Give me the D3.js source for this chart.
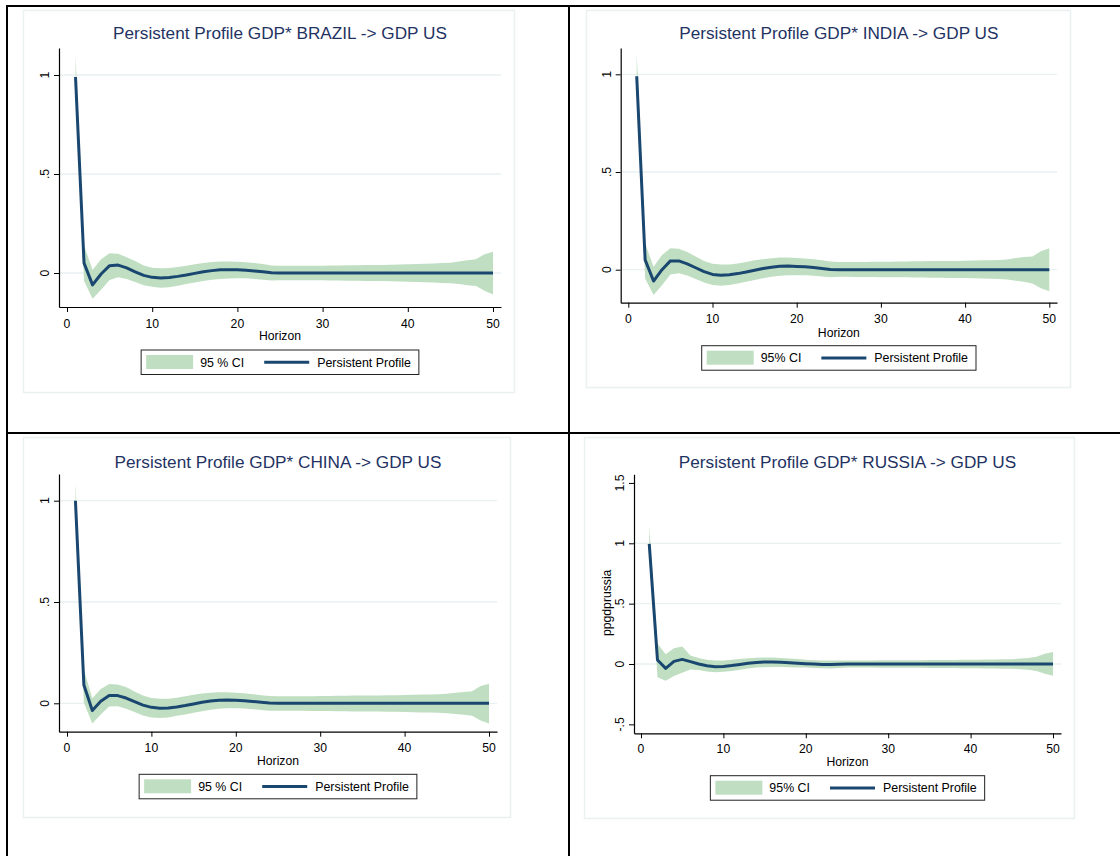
<!DOCTYPE html>
<html>
<head>
<meta charset="utf-8">
<script src="https://cdn.jsdelivr.net/npm/d3@7"></script>
<style>
  body { margin: 0; background: #fff; }
  svg { display: block; font-family: "Liberation Sans", Arial, sans-serif; }
</style>
</head>
<body>
<script>
// horizon 1..50
const horizon = d3.range(1, 51)
const xTicks = [0, 10, 20, 30, 40, 50]

const brazilPP = [0.99, 0.05, -0.06, -0.005, 0.037, 0.04, 0.026, 0.006, -0.012, -0.022,
  -0.025, -0.023, -0.017, -0.01, -0.002, 0.006, 0.012, 0.016, 0.017, 0.016,
  0.014, 0.01, 0.006, 0.001, 0, 0, 0, 0, 0, 0,
  0, 0, 0, 0, 0, 0, 0, 0, 0, 0,
  0, 0, 0, 0, 0, 0, 0, 0, 0, 0]
const brazilHi = [1.10, 0.14, 0.015, 0.07, 0.10, 0.097, 0.08, 0.06, 0.038, 0.027,
  0.024, 0.025, 0.03, 0.037, 0.044, 0.05, 0.055, 0.058, 0.058, 0.057,
  0.054, 0.05, 0.045, 0.038, 0.036, 0.036, 0.036, 0.036, 0.037, 0.037,
  0.038, 0.038, 0.039, 0.039, 0.040, 0.041, 0.041, 0.042, 0.043, 0.044,
  0.045, 0.047, 0.048, 0.050, 0.052, 0.058, 0.065, 0.070, 0.095, 0.107]
const brazilLo = [0.97, -0.04, -0.13, -0.085, -0.035, -0.022, -0.03, -0.045, -0.062, -0.07,
  -0.075, -0.072, -0.064, -0.056, -0.048, -0.04, -0.034, -0.03, -0.028, -0.027,
  -0.027, -0.03, -0.034, -0.038, -0.036, -0.036, -0.036, -0.036, -0.037, -0.037,
  -0.038, -0.038, -0.039, -0.039, -0.040, -0.041, -0.041, -0.042, -0.043, -0.044,
  -0.045, -0.047, -0.048, -0.050, -0.052, -0.056, -0.062, -0.066, -0.090, -0.108]

const indiaPP = [0.99, 0.05, -0.058, 0.0, 0.045, 0.045, 0.03, 0.01, -0.01, -0.024,
  -0.028, -0.026, -0.02, -0.012, -0.003, 0.006, 0.013, 0.018, 0.019, 0.017,
  0.015, 0.011, 0.006, 0.001, 0, 0, 0, 0, 0, 0,
  0, 0, 0, 0, 0, 0, 0, 0, 0, 0,
  0, 0, 0, 0, 0, 0, 0, 0, 0, 0]
const indiaHi = [1.11, 0.135, 0.015, 0.075, 0.11, 0.107, 0.09, 0.068, 0.045, 0.03,
  0.026, 0.027, 0.032, 0.04, 0.048, 0.054, 0.059, 0.062, 0.062, 0.06,
  0.057, 0.053, 0.048, 0.042, 0.040, 0.040, 0.040, 0.040, 0.041, 0.041,
  0.041, 0.042, 0.042, 0.043, 0.043, 0.044, 0.044, 0.045, 0.045, 0.046,
  0.047, 0.048, 0.049, 0.050, 0.052, 0.060, 0.065, 0.068, 0.095, 0.110]
const indiaLo = [0.97, -0.045, -0.13, -0.08, -0.025, -0.018, -0.03, -0.048, -0.066, -0.078,
  -0.082, -0.078, -0.07, -0.062, -0.053, -0.044, -0.036, -0.031, -0.029, -0.028,
  -0.028, -0.031, -0.035, -0.038, -0.036, -0.036, -0.037, -0.037, -0.037, -0.038,
  -0.038, -0.039, -0.039, -0.040, -0.040, -0.041, -0.041, -0.042, -0.042, -0.043,
  -0.044, -0.045, -0.046, -0.048, -0.050, -0.056, -0.062, -0.070, -0.095, -0.110]

const chinaPP = [1.0, 0.09, -0.036, 0.01, 0.038, 0.038, 0.026, 0.008, -0.009, -0.02,
  -0.024, -0.023, -0.018, -0.011, -0.003, 0.005, 0.011, 0.015, 0.016, 0.015,
  0.013, 0.009, 0.005, 0.001, 0, 0, 0, 0, 0, 0,
  0, 0, 0, 0, 0, 0, 0, 0, 0, 0,
  0, 0, 0, 0, 0, 0, 0, 0, 0, 0]
const chinaHi = [1.09, 0.165, 0.025, 0.07, 0.095, 0.093, 0.08, 0.058, 0.038, 0.026,
  0.022, 0.023, 0.028, 0.035, 0.042, 0.048, 0.052, 0.054, 0.054, 0.052,
  0.049, 0.045, 0.04, 0.036, 0.035, 0.035, 0.035, 0.035, 0.035, 0.036,
  0.036, 0.037, 0.037, 0.038, 0.038, 0.039, 0.039, 0.040, 0.040, 0.041,
  0.042, 0.043, 0.044, 0.045, 0.047, 0.052, 0.056, 0.060, 0.085, 0.096]
const chinaLo = [0.98, 0.003, -0.1, -0.055, -0.016, -0.015, -0.027, -0.043, -0.06, -0.07,
  -0.073, -0.07, -0.062, -0.055, -0.047, -0.039, -0.032, -0.027, -0.025, -0.025,
  -0.026, -0.029, -0.033, -0.037, -0.037, -0.037, -0.037, -0.037, -0.038, -0.038,
  -0.038, -0.039, -0.039, -0.040, -0.040, -0.041, -0.041, -0.042, -0.042, -0.043,
  -0.044, -0.045, -0.046, -0.047, -0.049, -0.053, -0.057, -0.062, -0.085, -0.100]

const russiaPP = [0.995, 0.033, -0.036, 0.022, 0.038, 0.02, 0.0, -0.015, -0.022, -0.02,
  -0.013, -0.004, 0.006, 0.013, 0.017, 0.017, 0.015, 0.011, 0.007, 0.003,
  -0.001, -0.004, -0.005, -0.002, 0, 0, 0, 0, 0, 0,
  0, 0, 0, 0, 0, 0, 0, 0, 0, 0,
  0, 0, 0, 0, 0, 0, 0, 0, 0, 0]
const russiaHi = [1.14, 0.17, 0.08, 0.13, 0.145, 0.07, 0.05, 0.035, 0.028, 0.03,
  0.036, 0.042, 0.048, 0.052, 0.054, 0.053, 0.05, 0.046, 0.041, 0.036,
  0.032, 0.029, 0.028, 0.029, 0.030, 0.030, 0.030, 0.030, 0.031, 0.031,
  0.031, 0.032, 0.032, 0.032, 0.033, 0.033, 0.034, 0.034, 0.035, 0.035,
  0.036, 0.037, 0.038, 0.039, 0.040, 0.045, 0.050, 0.060, 0.085, 0.100]
const russiaLo = [0.98, -0.11, -0.138, -0.1, -0.072, -0.045, -0.05, -0.062, -0.068, -0.064,
  -0.058, -0.048, -0.038, -0.03, -0.026, -0.024, -0.024, -0.026, -0.028, -0.03,
  -0.033, -0.036, -0.037, -0.033, -0.030, -0.030, -0.030, -0.030, -0.031, -0.031,
  -0.031, -0.032, -0.032, -0.032, -0.033, -0.033, -0.034, -0.034, -0.035, -0.035,
  -0.036, -0.037, -0.038, -0.039, -0.040, -0.043, -0.048, -0.058, -0.080, -0.097]

const yTicksA = [0, 0.5, 1]
const yTicksB = [-0.5, 0, 0.5, 1, 1.5]
const yTickLabels = { '-0.5': '-.5', '0': '0', '0.5': '.5', '1': '1', '1.5': '1.5' }

const titles = [
  'Persistent Profile GDP* BRAZIL -> GDP US',
  'Persistent Profile GDP* INDIA -> GDP US',
  'Persistent Profile GDP* CHINA -> GDP US',
  'Persistent Profile GDP* RUSSIA -> GDP US'
]
const ciLabels = ['95 % CI', '95% CI', '95 % CI', '95% CI']
const lineLabel = 'Persistent Profile'
const xTitle = 'Horizon'

const W = 1120, H = 856
const ciColor = '#c0dfc2'
const lineColor = '#1a476f'
const gridColor = '#e9f1f2'
const titleColor = '#1f3363'

// layout per panel (pixels)
const panels = [
  { pp: brazilPP, lo: brazilLo, hi: brazilHi, yTicks: yTicksA, box: [23, 10, 514, 392],
    left: 59, right: 501, top: 48, bottom: 307, x0: 67, x50: 493, y0: 273, y1: 75,
    titleY: 39, tickY: 327.5, xTitleY: 339.5, legTop: 350 },
  { pp: indiaPP, lo: indiaLo, hi: indiaHi, yTicks: yTicksA, box: [586, 10, 1070, 387],
    left: 620.7, right: 1057, top: 48, bottom: 302.7, x0: 628.3, x50: 1049.3, y0: 269.7, y1: 74.3,
    titleY: 39, tickY: 322.5, xTitleY: 336.5, legTop: 345.7 },
  { pp: chinaPP, lo: chinaLo, hi: chinaHi, yTicks: yTicksA, box: [23, 437, 510, 817],
    left: 59, right: 497, top: 474, bottom: 731.7, x0: 67, x50: 489, y0: 703.3, y1: 500.7,
    titleY: 467.7, tickY: 751.5, xTitleY: 764.5, legTop: 774.3 },
  { pp: russiaPP, lo: russiaLo, hi: russiaHi, yTicks: yTicksB, box: [584, 437, 1074, 818],
    left: 634, right: 1061, top: 474.3, bottom: 733.3, x0: 641, x50: 1053, y0: 664, y1: 543.3,
    titleY: 467.7, tickY: 752.5, xTitleY: 765.5, legTop: 775.7, yTitle: 'ppgdprussia' }
]

const svg = d3.select('body').append('svg')
  .attr('width', W)
  .attr('height', H)

panels.forEach((p, i) => {
  const g = svg.append('g')
  const [bx0, by0, bx1, by1] = p.box
  g.append('rect')
    .attr('x', bx0 + 0.5).attr('y', by0 + 0.5)
    .attr('width', bx1 - bx0).attr('height', by1 - by0)
    .attr('fill', '#fff').attr('stroke', '#eaf1f3').attr('stroke-width', 1.5)

  const x = d3.scaleLinear().domain([0, 50]).range([p.x0, p.x50])
  x.domain([x.invert(p.left), x.invert(p.right)]).range([p.left, p.right])
  const y = d3.scaleLinear().domain([0, 1]).range([p.y0, p.y1])
  y.domain([y.invert(p.bottom), y.invert(p.top)]).range([p.bottom, p.top])

  // grid
  g.selectAll('.grid').data(p.yTicks.filter(t => t >= 0 && t <= 1)).enter()
    .append('line')
    .attr('x1', p.left).attr('x2', p.right)
    .attr('y1', d => y(d)).attr('y2', d => y(d))
    .attr('stroke', gridColor).attr('stroke-width', 1.3)

  // CI band
  const rows = horizon.map((h, k) => ({ h: h, pp: p.pp[k], lo: p.lo[k], hi: p.hi[k] }))
  g.append('path')
    .datum(rows)
    .attr('d', d3.area().x(d => x(d.h)).y0(d => y(d.lo)).y1(d => y(d.hi)))
    .attr('fill', ciColor)

  g.append('path')
    .datum(rows)
    .attr('d', d3.line().x(d => x(d.h)).y(d => y(d.pp)))
    .attr('fill', 'none')
    .attr('stroke', lineColor)
    .attr('stroke-width', 3)
    .attr('stroke-linejoin', 'round')

  // axes
  const xAxis = g.append('g')
    .attr('transform', 'translate(0,' + p.bottom + ')')
    .call(d3.axisBottom(x).tickValues(xTicks).tickSize(5).tickSizeOuter(0).tickPadding(3))
  xAxis.selectAll('text').remove()
  g.selectAll('.xt').data(xTicks).enter().append('text')
    .attr('x', d => x(d)).attr('y', p.tickY)
    .attr('text-anchor', 'middle').attr('font-size', 12.2).attr('fill', '#000')
    .text(d => d)

  const yAxis = g.append('g')
    .attr('transform', 'translate(' + p.left + ',0)')
    .call(d3.axisLeft(y).tickValues(p.yTicks).tickSize(5).tickSizeOuter(0))
  yAxis.selectAll('text').remove()
  ;[xAxis, yAxis].forEach(a => {
    a.select('.domain').attr('stroke', '#000').attr('stroke-width', 1.2)
    a.selectAll('.tick line').attr('stroke', '#000')
  })
  g.selectAll('.yt').data(p.yTicks).enter().append('text')
    .attr('transform', d => 'translate(' + (p.left - 10) + ',' + y(d) + ') rotate(-90)')
    .attr('text-anchor', 'middle').attr('font-size', 12.2).attr('fill', '#000')
    .text(d => yTickLabels[String(d)])

  const cx = (p.left + p.right) / 2
  g.append('text')
    .attr('x', cx).attr('y', p.titleY)
    .attr('text-anchor', 'middle').attr('font-size', 17.2).attr('fill', titleColor)
    .text(titles[i])

  g.append('text')
    .attr('x', cx).attr('y', p.xTitleY)
    .attr('text-anchor', 'middle').attr('font-size', 12.2).attr('fill', '#000')
    .text(xTitle)

  if (p.yTitle) {
    g.append('text')
      .attr('transform', 'translate(' + (p.left - 23.5) + ',' + ((p.top + p.bottom) / 2 - 1) + ') rotate(-90)')
      .attr('text-anchor', 'middle').attr('font-size', 12.2).attr('fill', '#000')
      .text(p.yTitle)
  }

  // legend
  const leg = g.append('g')
  const boxRect = leg.append('rect')
    .attr('y', p.legTop).attr('height', 24.5)
    .attr('fill', '#fff').attr('stroke', '#222').attr('stroke-width', 1)
  const sw = leg.append('rect').attr('y', p.legTop + 5).attr('height', 14).attr('width', 47)
    .attr('fill', ciColor)
  const t1 = leg.append('text').attr('y', p.legTop + 16.5)
    .attr('font-size', 12.4).attr('fill', '#000').text(ciLabels[i])
  const ln = leg.append('line').attr('y1', p.legTop + 12.3).attr('y2', p.legTop + 12.3)
    .attr('stroke', lineColor).attr('stroke-width', 3)
  const t2 = leg.append('text').attr('y', p.legTop + 16.5)
    .attr('font-size', 12.4).attr('fill', '#000').text(lineLabel)
  const w1 = t1.node().getComputedTextLength()
  const w2 = t2.node().getComputedTextLength()
  const legW = 5 + 47 + 7 + w1 + 20 + 45 + 8 + w2 + 8
  const lx = cx - legW / 2
  boxRect.attr('x', lx).attr('width', legW)
  sw.attr('x', lx + 5)
  t1.attr('x', lx + 59)
  ln.attr('x1', lx + 59 + w1 + 20).attr('x2', lx + 59 + w1 + 65)
  t2.attr('x', lx + 59 + w1 + 73)
})

// outer frame lines
const frame = [
  [6, 6, W, 6],
  [7, 5, 7, H],
  [569, 5, 569, H],
  [7, 433, W, 433]
]
svg.selectAll('.frame').data(frame).enter().append('line')
  .attr('x1', d => d[0]).attr('y1', d => d[1])
  .attr('x2', d => d[2]).attr('y2', d => d[3])
  .attr('stroke', '#000').attr('stroke-width', 2)
</script>
</body>
</html>
